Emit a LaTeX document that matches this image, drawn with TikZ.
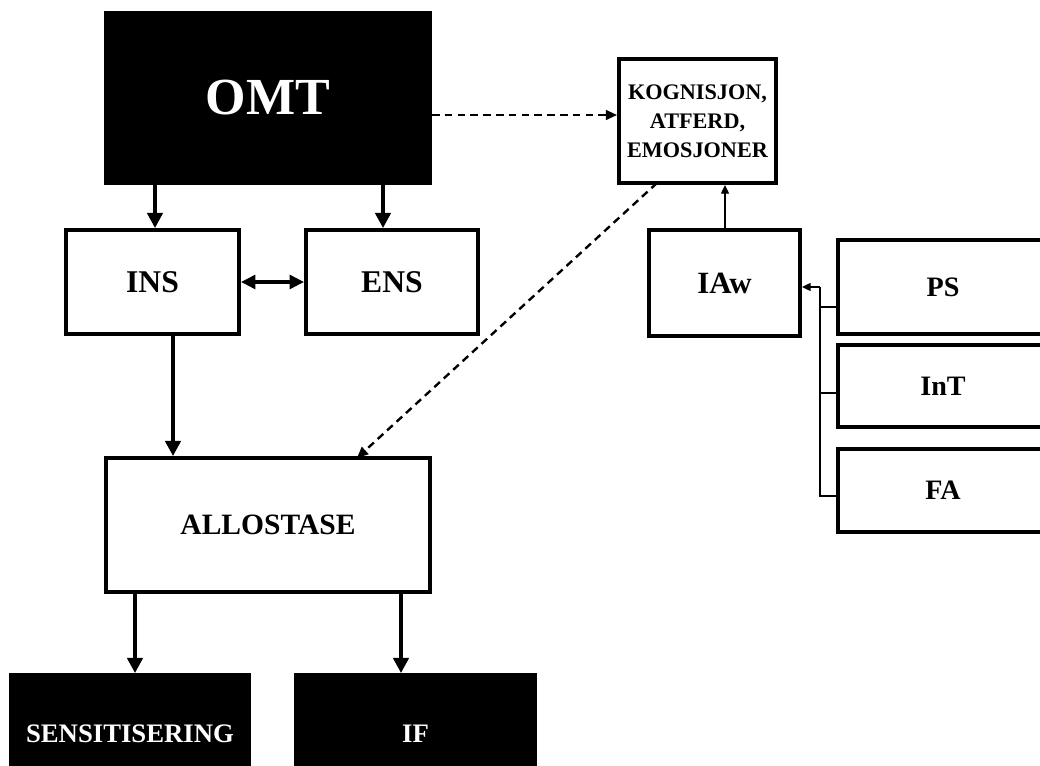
\documentclass[tikz,border=0pt]{standalone}
\usepackage{fontspec}
\setmainfont{Liberation Serif}
\usetikzlibrary{arrows.meta}
\tikzset{
  box/.style={draw=black, line width=2.7pt, fill=white, inner sep=0pt, align=center, font=\bfseries},
  blackbox/.style={box, fill=black, text=white},
  thickarrow/.style={line width=2.7pt, -{Triangle[length=0.38cm,width=0.38cm]}},
  botharrow/.style={line width=2.7pt, {Triangle[length=0.36cm,width=0.34cm]}-{Triangle[length=0.36cm,width=0.34cm]}},
  dasharrow/.style={line width=1.7pt, dash pattern=on 0.19cm off 0.13cm, -{Triangle[length=0.28cm,width=0.24cm]}},
  thinarrow/.style={line width=1pt, -{Triangle[length=0.22cm,width=0.2cm]}},
  thinline/.style={line width=1pt},
}
\newcommand{\fsz}[1]{\fontsize{#1}{#1}\selectfont}
\begin{document}
\begin{tikzpicture}[x=0.025cm, y=-0.025cm]
\useasboundingbox (0,0) rectangle (1040,766);
\clip (0,0) rectangle (1040,766);
\fill[white] (0,0) rectangle (1040,766);

\node[blackbox, minimum width=8.1cm, minimum height=4.25cm, font=\bfseries\fsz{37}] (OMT) at (268,98) {OMT};
\node[box, minimum width=4.325cm, minimum height=2.6cm, font=\bfseries\fsz{22.5}] (INS) at (152.5,282) {INS};
\node[box, minimum width=4.3cm, minimum height=2.6cm, font=\bfseries\fsz{22.5}] (ENS) at (392,282) {ENS};
\node[box, minimum width=3.925cm, minimum height=3.1cm, font=\bfseries\fontsize{15.8}{20.5}\selectfont] (KOG) at (697.5,121) {KOGNISJON,\\ATFERD,\\EMOSJONER};
\node[box, minimum width=3.775cm, minimum height=2.65cm, font=\bfseries\fsz{22}] (IAw) at (724.5,283) {IAw};
\node[box, minimum width=5.25cm, minimum height=2.35cm, font=\bfseries\fsz{20}] (PS) at (943,287) {PS};
\node[box, minimum width=5.25cm, minimum height=2.05cm, font=\bfseries\fsz{20}] (InT) at (943,386) {InT};
\node[box, minimum width=5.25cm, minimum height=2.075cm, font=\bfseries\fsz{20}] (FA) at (943,490.5) {FA};
\node[box, minimum width=8.1cm, minimum height=3.35cm, font=\bfseries\fsz{21}] (ALL) at (268,525) {ALLOSTASE};
\node[blackbox, minimum width=5.95cm, minimum height=2.95cm, font=\bfseries\fsz{19}] (SEN) at (130,734) {SENSITISERING};
\node[blackbox, minimum width=5.975cm, minimum height=2.95cm, font=\bfseries\fsz{19}] (IF) at (415.5,734) {IF};

% OMT to INS / ENS
\draw[thickarrow] (OMT.south -| 155,0) -- (INS.north -| 155,0);
\draw[thickarrow] (OMT.south -| 383,0) -- (ENS.north -| 383,0);
\draw[botharrow] (INS.east) -- (ENS.west);
\draw[thickarrow] (INS.south -| 173,0) -- (ALL.north -| 173,0);

% dashed
\draw[dasharrow] (OMT.east |- 0,115) -- (KOG.west |- 0,115);
\coordinate (kogout) at (657,183);
\coordinate (allin) at (357,458);
\draw[dasharrow] (kogout) -- (allin);

% IAw to KOG
\draw[thinarrow] (IAw.north -| 725,0) -- (KOG.south -| 725,0);

% bracket
\coordinate (br) at (820,287);
\draw[thinline] (PS.west |- 0,307) -- (820,307);
\draw[thinline] (InT.west |- 0,393) -- (820,393);
\draw[thinline] (FA.west |- 0,496) -- (820,496) -- (br);
\draw[thinarrow] (br) -- (IAw.east |- br);

% ALLOSTASE outputs
\draw[thickarrow] (ALL.south -| 135,0) -- (SEN.north -| 135,0);
\draw[thickarrow] (ALL.south -| 401,0) -- (IF.north -| 401,0);
\end{tikzpicture}
\end{document}
